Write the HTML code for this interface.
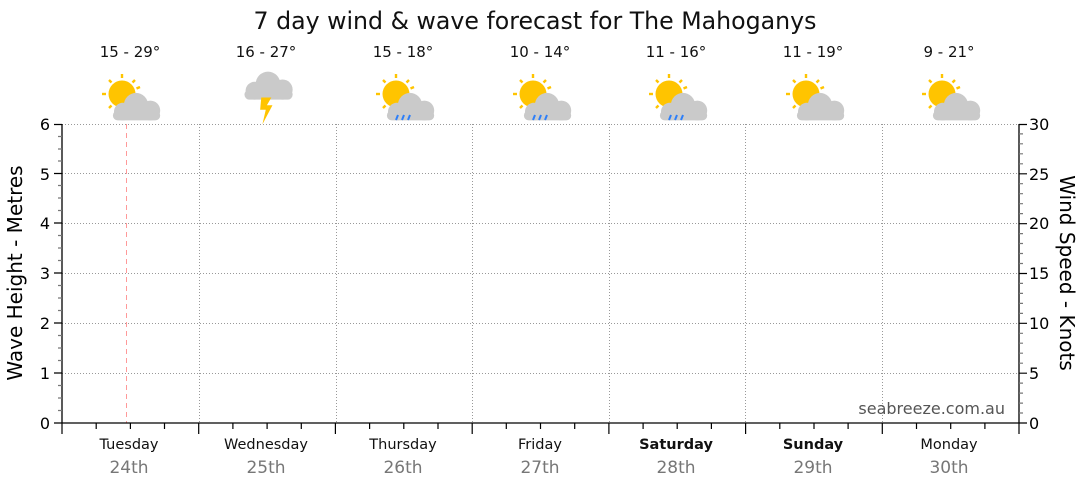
<!DOCTYPE html>
<html><head><meta charset="utf-8"><style>body{margin:0;background:#fff}svg{display:block}</style></head><body>
<svg width="1080" height="490" xmlns="http://www.w3.org/2000/svg" font-family="DejaVu Sans, Liberation Sans, sans-serif">
<defs>
<g id="sun"><g stroke="#FFC400" stroke-width="2.4"><line x1="0" y1="-20" x2="0" y2="-16"/><line x1="13" y1="-14" x2="10.5" y2="-11.5"/><line x1="-13" y1="-14" x2="-10.5" y2="-11.5"/><line x1="-20" y1="0" x2="-16" y2="0"/><line x1="-13" y1="14" x2="-10.5" y2="11.5"/><line x1="18" y1="-7" x2="14.5" y2="-5.5"/></g><circle r="13.5" fill="#FFC400"/></g>
<g id="cloud" fill="#CACACA"><circle cx="0" cy="0" r="11"/><circle cx="-12" cy="6" r="8"/><circle cx="13" cy="5" r="9"/><rect x="-21" y="5" width="43" height="9" rx="4.5"/></g>
<g id="sc"><use href="#sun" transform="translate(-4,-6)"/><use href="#cloud" transform="translate(10,5) scale(1.1)"/></g>
<g id="rain" stroke="#2D7FF9" stroke-width="2"><line x1="-2" y1="23" x2="-4" y2="28"/><line x1="4" y1="23" x2="2" y2="28"/><line x1="10" y1="23" x2="8" y2="28"/></g>
</defs>
<text x="535" y="29" font-size="24" text-anchor="middle" fill="#111" textLength="563" lengthAdjust="spacingAndGlyphs">7 day wind &amp; wave forecast for The Mahoganys</text>
<g font-size="15" text-anchor="middle" fill="#111">
<text x="130" y="57">15 - 29°</text><text x="266" y="57">16 - 27°</text><text x="403" y="57">15 - 18°</text><text x="540" y="57">10 - 14°</text><text x="676" y="57">11 - 16°</text><text x="813" y="57">11 - 19°</text><text x="949" y="57">9 - 21°</text>
</g>
<use href="#sc" transform="translate(126,100)"/>
<g transform="translate(268,84) scale(1.12)"><use href="#cloud"/><polygon points="-6,12 3,12 -1,19 4,19 -5,36 -2,23 -7,23" fill="#FFC400"/></g>
<use href="#sc" transform="translate(400,100)"/><use href="#rain" transform="translate(400,92)"/>
<use href="#sc" transform="translate(537,100)"/><use href="#rain" transform="translate(537,92)"/>
<use href="#sc" transform="translate(673,100)"/><use href="#rain" transform="translate(673,92)"/>
<use href="#sc" transform="translate(810,100)"/>
<use href="#sc" transform="translate(946,100)"/>
<g stroke="#999" stroke-dasharray="1,2" stroke-width="1">
<line x1="62" y1="373.5" x2="1019" y2="373.5"/><line x1="62" y1="323.5" x2="1019" y2="323.5"/><line x1="62" y1="273.5" x2="1019" y2="273.5"/><line x1="62" y1="223.5" x2="1019" y2="223.5"/><line x1="62" y1="173.5" x2="1019" y2="173.5"/><line x1="62" y1="124.5" x2="1019" y2="124.5"/>
<line x1="199.5" y1="124" x2="199.5" y2="423"/><line x1="336.5" y1="124" x2="336.5" y2="423"/><line x1="472.5" y1="124" x2="472.5" y2="423"/><line x1="609.5" y1="124" x2="609.5" y2="423"/><line x1="745.5" y1="124" x2="745.5" y2="423"/><line x1="882.5" y1="124" x2="882.5" y2="423"/>
</g>
<line x1="126.5" y1="124" x2="126.5" y2="423" stroke="#F99" stroke-dasharray="5,4"/>
<g stroke="#000" stroke-width="1.3">
<line x1="62" y1="124" x2="62" y2="423"/><line x1="1019" y1="124" x2="1019" y2="423"/><line x1="62" y1="423" x2="1019" y2="423"/>
</g>
<path stroke="#000" stroke-width="1.2" fill="none" d="M54 423H62M54 373H62M54 323H62M54 273H62M54 223H62M54 173.5H62M54 124.5H62
M1019 423H1027M1019 373.2H1027M1019 323.3H1027M1019 273.5H1027M1019 223.7H1027M1019 173.8H1027M1019 124.5H1027
M62 423V434M198.7 423V434M335.4 423V434M472.2 423V434M608.9 423V434M745.6 423V434M882.3 423V434M1019 423V434
M96.2 423V429M130.4 423V429M164.5 423V429M232.9 423V429M267.1 423V429M301.3 423V429M369.6 423V429M403.8 423V429M438 423V429M506.3 423V429M540.5 423V429M574.7 423V429M643.1 423V429M677.2 423V429M711.4 423V429M779.8 423V429M814 423V429M848.1 423V429M916.5 423V429M950.7 423V429M984.9 423V429"/>
<path stroke="#777" stroke-width="1.2" fill="none" d="M58 410.5H62M58 398H62M58 385.5H62M58 360.5H62M58 348H62M58 335.5H62M58 310.5H62M58 298H62M58 285.5H62M58 260.5H62M58 248H62M58 235.5H62M58 210.5H62M58 198H62M58 185.5H62M58 161H62M58 149H62M58 136.5H62
M1019 413H1023M1019 403.1H1023M1019 393.1H1023M1019 383.1H1023M1019 363.2H1023M1019 353.2H1023M1019 343.2H1023M1019 333.3H1023M1019 313.4H1023M1019 303.4H1023M1019 293.4H1023M1019 283.4H1023M1019 263.5H1023M1019 253.5H1023M1019 243.5H1023M1019 233.6H1023M1019 213.6H1023M1019 203.7H1023M1019 193.7H1023M1019 183.7H1023M1019 163.8H1023M1019 153.8H1023M1019 143.8H1023M1019 133.9H1023"/>
<g font-size="16" text-anchor="end" fill="#000">
<text x="50" y="429">0</text><text x="50" y="379">1</text><text x="50" y="329">2</text><text x="50" y="279">3</text><text x="50" y="229">4</text><text x="50" y="180">5</text><text x="50" y="130">6</text>
</g>
<g font-size="16" fill="#000">
<text x="1029" y="429">0</text><text x="1029" y="379">5</text><text x="1029" y="329">10</text><text x="1029" y="279">15</text><text x="1029" y="229">20</text><text x="1029" y="180">25</text><text x="1029" y="130">30</text>
</g>
<text transform="translate(22,273) rotate(-90)" font-size="20" text-anchor="middle">Wave Height - Metres</text>
<text transform="translate(1060,273) rotate(90)" font-size="20" text-anchor="middle">Wind Speed - Knots</text>
<text x="1005" y="414" font-size="16" text-anchor="end" fill="#555">seabreeze.com.au</text>
<g font-size="14.5" text-anchor="middle" fill="#111">
<text x="129" y="449">Tuesday</text><text x="266" y="449">Wednesday</text><text x="403" y="449">Thursday</text><text x="540" y="449">Friday</text><text x="676" y="449" font-weight="bold">Saturday</text><text x="813" y="449" font-weight="bold">Sunday</text><text x="949" y="449">Monday</text>
</g>
<g font-size="17" text-anchor="middle" fill="#777">
<text x="129" y="473">24th</text><text x="266" y="473">25th</text><text x="403" y="473">26th</text><text x="540" y="473">27th</text><text x="676" y="473">28th</text><text x="813" y="473">29th</text><text x="949" y="473">30th</text>
</g>
</svg>
</body></html>
